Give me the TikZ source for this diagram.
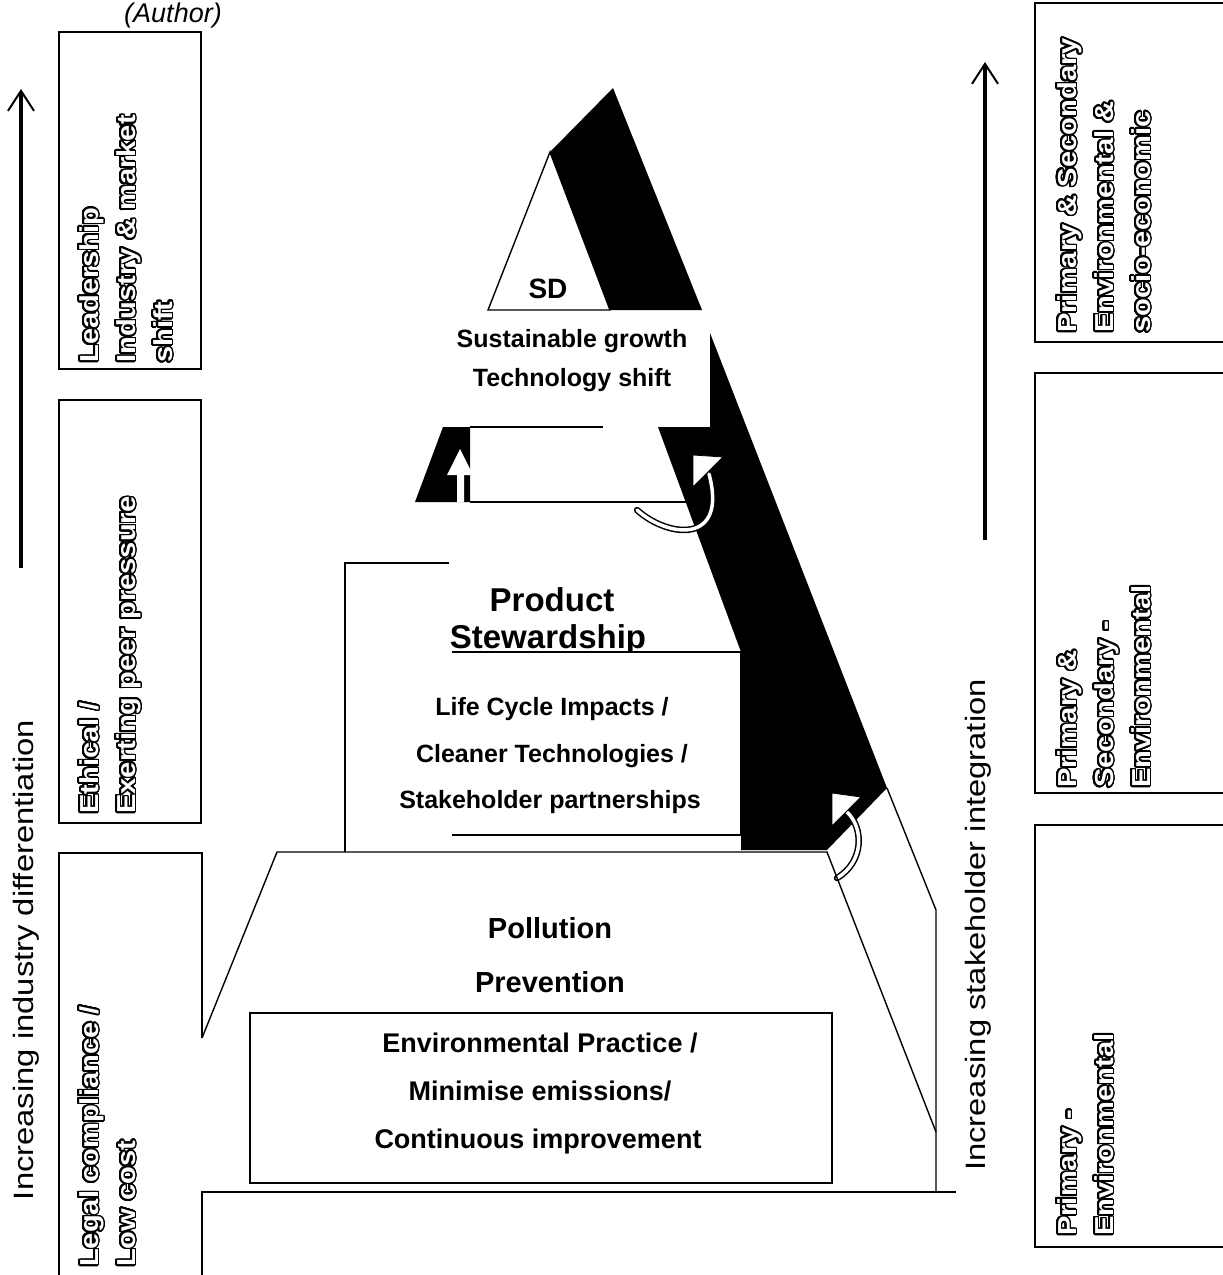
\documentclass[tikz,border=0pt]{standalone}
\usepackage{fontspec}
\setmainfont{Liberation Sans}
\usepackage[copies]{contour}
\usepackage{tikz}
\usetikzlibrary{arrows.meta}
\definecolor{pyrink}{HTML}{000000}
\definecolor{pyrpaper}{HTML}{FFFFFF}
\contourlength{1.5pt}
\contournumber{32}
\newcommand{\hollow}[1]{\contour{pyrink}{#1}}

\begin{document}
\begin{tikzpicture}[x=1pt,y=-1pt,
    lvltext/.style={font=\bfseries\fontsize{25}{30}\selectfont,inner sep=0,anchor=base},
    lvlbig/.style={font=\bfseries\fontsize{29}{35}\selectfont,inner sep=0,anchor=base},
    tiertext/.style={rotate=90,xscale=1.12,anchor=north west,align=left,inner sep=0,
      text=pyrpaper,font=\bfseries\fontsize{26}{37}\selectfont},
    axistext/.style={rotate=90,xscale=1.17,anchor=base,inner sep=0,
      font=\fontsize{28}{34}\selectfont},
    tierline/.style={draw=pyrink,line width=2pt},
    pyrline/.style={draw=pyrink,line width=1.4pt},
    turnarrow/.style={draw=pyrink,double=pyrpaper,double distance=3.5pt,line width=1.5pt,line cap=round},
    turnhead/.style={fill=pyrpaper,draw=pyrink,line width=0.8pt},
    riseaxis/.style={draw=pyrink,line width=3.2pt,-{Straight Barb[length=20pt,width=26pt,line width=2pt]}}]
  \useasboundingbox (0,0) rectangle (1223,1275);

  % Caption remnant
  \node[font=\itshape\fontsize{27}{32}\selectfont,anchor=base,inner sep=0] (author) at (173,22) {(Author)};

  % Left axis: differentiation
  \coordinate (lfoot) at (21,568);
  \coordinate (lhead) at (21,89);
  \draw[riseaxis] (lfoot) -- (lhead);
  \node[axistext] (ldiff) at (33,960) {Increasing industry differentiation};

  % Right axis: stakeholder integration
  \coordinate (rfoot) at (985,540);
  \coordinate (rhead) at (985,62);
  \draw[riseaxis] (rfoot) -- (rhead);
  \node[axistext] (rstake) at (985,925) {Increasing stakeholder integration};

  % Left tiers
  \draw[tierline] (59,32) rectangle (201,369);
  \draw[tierline] (59,400) rectangle (201,823);
  \draw[tierline] (202,1038) -- (202,853) -- (59,853) -- (59,1275);
  \node[tiertext] (lead) at (79,363)
    {\hollow{Leadership}\\\hollow{Industry \& market}\\\hollow{shift}};
  \node[tiertext] (ethic) at (79,814)
    {\hollow{Ethical /}\\\hollow{Exerting peer pressure}};
  \node[tiertext] (legal) at (79,1267)
    {\hollow{Legal compliance /}\\\hollow{Low cost}};

  % Right tiers
  \draw[tierline] (1223,3) -- (1035,3) -- (1035,342) -- (1223,342);
  \draw[tierline] (1223,373) -- (1035,373) -- (1035,793) -- (1223,793);
  \draw[tierline] (1223,825) -- (1035,825) -- (1035,1247) -- (1223,1247);
  \node[tiertext] (socio) at (1057,333)
    {\hollow{Primary \& Secondary}\\\hollow{Environmental \&}\\\hollow{socio-economic}};
  \node[tiertext] (second) at (1057,788)
    {\hollow{Primary \&}\\\hollow{Secondary -}\\\hollow{Environmental}};
  \node[tiertext] (prim) at (1057,1236)
    {\hollow{Primary -}\\\hollow{Environmental}};

  % Apex: SD triangle with the dark band behind it
  \fill[pyrink] (550,152) -- (613,88) -- (702,310) -- (610,310) -- cycle;
  \draw[pyrline,fill=pyrpaper] (550,152) -- (488,310) -- (610,310) -- cycle;
  \node[lvltext,font=\bfseries\fontsize{28}{34}\selectfont] (sd) at (548,298) {SD};
  \node[lvltext] (growth) at (572,347) {Sustainable growth};
  \node[lvltext] (techshift) at (572,386) {Technology shift};

  % Dark band down the right flank
  \fill[pyrink] (710,333) -- (887,788) -- (827,850) -- (741,850) -- (741,652)
    -- (658,427) -- (710,427) -- cycle;
  \draw[pyrline] (887,788) -- (936,910) -- (936,1192);

  % Second step with the up arrow
  \fill[pyrink] (415,502) -- (443,427) -- (470,427) -- (470,502) -- cycle;
  \fill[pyrpaper] (460,449) -- (473,475) -- (464,475) -- (464,502) -- (457,502)
    -- (457,475) -- (447,475) -- cycle;
  \draw[pyrline] (470,427) -- (603,427);
  \draw[pyrline] (470,502) -- (686,502);
  \draw[turnarrow] (637,510) .. controls (668,538) and (728,545) .. (709,474);
  \filldraw[turnhead] (693,455) -- (723,457) -- (693,487) -- cycle;

  % Product stewardship
  \draw[pyrline] (345,852) -- (345,563) -- (449,563);
  \node[lvltext,font=\bfseries\fontsize{33}{40}\selectfont] (product) at (552,611) {Product};
  \node[lvltext,font=\bfseries\fontsize{33}{40}\selectfont] (steward) at (548,648) {Stewardship};
  \filldraw[fill=pyrpaper,draw=pyrink,line width=1.4pt] (452,652) -- (741,652) -- (741,835) -- (452,835);
  \node[lvltext] (lifecycle) at (552,715) {Life Cycle Impacts /};
  \node[lvltext] (cleaner) at (552,762) {Cleaner Technologies /};
  \node[lvltext] (partners) at (550,808) {Stakeholder partnerships};
  \draw[turnarrow] (837,878) .. controls (864,862) and (864,828) .. (847,812);
  \filldraw[turnhead] (832,793) -- (861,797) -- (832,826) -- cycle;

  % Pollution prevention base
  \draw[pyrline] (202,1038) -- (277,852) -- (827,852) -- (936,1132);
  \draw[tierline] (202,1275) -- (202,1192) -- (956,1192);
  \node[lvlbig] (pollution) at (550,938) {Pollution};
  \node[lvlbig] (prevention) at (550,992) {Prevention};
  \draw[tierline] (250,1013) rectangle (832,1183);
  \node[lvltext,font=\bfseries\fontsize{27}{32}\selectfont] (envprac) at (540,1052) {Environmental Practice /};
  \node[lvltext,font=\bfseries\fontsize{27}{32}\selectfont] (minimise) at (540,1100) {Minimise emissions/};
  \node[lvltext,font=\bfseries\fontsize{27}{32}\selectfont] (continuous) at (538,1148) {Continuous improvement};
\end{tikzpicture}
\end{document}
